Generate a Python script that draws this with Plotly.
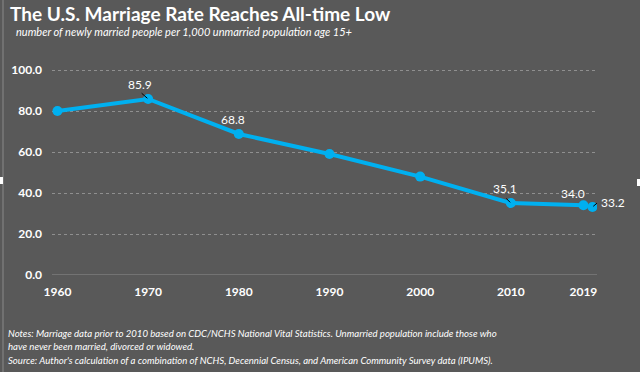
import plotly.graph_objects as go

# Data
years = [1960, 1970, 1980, 1990, 2000, 2010, 2018]
rates = [80.0, 85.9, 68.8, 59.0, 48.0, 35.1, 34.0]
extra_year = [2019]
extra_rate = [33.2]
tick_vals = [1960, 1970, 1980, 1990, 2000, 2010, 2018]
tick_text = ["1960", "1970", "1980", "1990", "2000", "2010", "2019"]
y_ticks = [0, 20, 40, 60, 80, 100]

BG = "#595959"
BLUE = "#00B0F0"
FONT = "Lato"
L, R, T, B = 52, 43, 69, 97
PW, PH = 640 - L - R, 372 - T - B


def px(x):
    return (x - L) / PW


def py(y):
    return (372 - B - y) / PH


fig = go.Figure()
fig.add_trace(go.Scatter(x=years, y=rates, mode="lines+markers",
                         line=dict(color=BLUE, width=4),
                         marker=dict(color=BLUE, size=10),
                         hoverinfo="skip", showlegend=False))
fig.add_trace(go.Scatter(x=extra_year, y=extra_rate, mode="markers",
                         marker=dict(color=BLUE, size=10),
                         hoverinfo="skip", showlegend=False))

lbl_font = dict(family=FONT, size=12, color="white")
# data labels: x, y, xshift, yshift, leader (ax, ay) or None
labels = [
    (years[1], rates[1], -8, 14, (-8, -7)),
    (years[2], rates[2], -6, 14, None),
    (years[5], rates[5], -6, 15, (-6, -6)),
    (years[6], rates[6], -10, 12, None),
    (extra_year[0], extra_rate[0], 21, 4, (6, -5)),
]
for x, y, xs, ys, leader in labels:
    fig.add_annotation(x=x, y=y, text=f"{y:.1f}", showarrow=False,
                       xshift=xs, yshift=ys, font=lbl_font)
    if leader:
        fig.add_annotation(x=x, y=y, text="", showarrow=True, arrowhead=0,
                           arrowwidth=1, arrowcolor="black",
                           ax=leader[0], ay=leader[1], standoff=1)

fig.update_layout(
    width=640, height=372,
    margin=dict(l=L, r=R, t=T, b=B),
    paper_bgcolor=BG, plot_bgcolor=BG,
    font=dict(family=FONT, color="white"),
    title=dict(text="<b>The U.S. Marriage Rate Reaches All-time Low</b>",
               x=10 / 640, xanchor="left", y=1 - 14 / 372, yanchor="middle",
               font=dict(family=FONT, size=19, color="white")),
    xaxis=dict(range=[1959.4, 2019.5], tickvals=tick_vals, ticktext=tick_text,
               showgrid=False, zeroline=False, showline=False, ticks="",
               ticklabelstandoff=8,
               tickfont=dict(family=FONT, size=12, color="white", weight="bold")),
    yaxis=dict(range=[0, 100.5], tickvals=y_ticks, tickformat=".1f",
               showgrid=True, gridcolor="#8f8f8f", griddash="dot", gridwidth=1,
               zeroline=False, showline=False, ticks="", ticklen=0,
               ticklabelstandoff=9,
               tickfont=dict(family=FONT, size=12, color="white", weight="bold")),
)

# baseline at 0
fig.add_shape(type="line", xref="paper", yref="y", x0=0, x1=1, y0=0, y1=0,
              line=dict(color="#8f8f8f", width=1), layer="below")
# left border line
fig.add_shape(type="line", xref="paper", yref="paper",
              x0=px(3), x1=px(3), y0=py(372), y1=py(0),
              line=dict(color="#8a8a8a", width=1))
# small selection handles
fig.add_shape(type="rect", xref="paper", yref="paper",
              x0=px(0), x1=px(3), y0=py(184), y1=py(177),
              line=dict(width=0), fillcolor="white")
fig.add_shape(type="rect", xref="paper", yref="paper",
              x0=px(637), x1=px(640), y0=py(186), y1=py(179),
              line=dict(width=0), fillcolor="white")

fig.add_annotation(xref="paper", yref="paper", x=px(14), y=py(31),
                   xanchor="left", yanchor="middle", showarrow=False,
                   text="<i>number of newly married people per 1,000 unmarried population age 15+</i>",
                   font=dict(family=FONT, size=11, color="white"))

notes = [
    ("Notes: Marriage data prior to 2010 based on CDC/NCHS National Vital Statistics. "
     "Unmarried population include those who", 333),
    ("have never been married, divorced or widowed.", 346),
    ("Source: Author's calculation of a combination of NCHS, Decennial Census, and American "
     "Community Survey data (IPUMS).", 360),
]
for txt, yy in notes:
    fig.add_annotation(xref="paper", yref="paper", x=px(6), y=py(yy),
                       xanchor="left", yanchor="middle", showarrow=False,
                       text=f"<i>{txt}</i>",
                       font=dict(family=FONT, size=9.6, color="white"))

fig.write_html("out.html", config={"displayModeBar": False},
               post_script="document.body.style.margin='0';")
